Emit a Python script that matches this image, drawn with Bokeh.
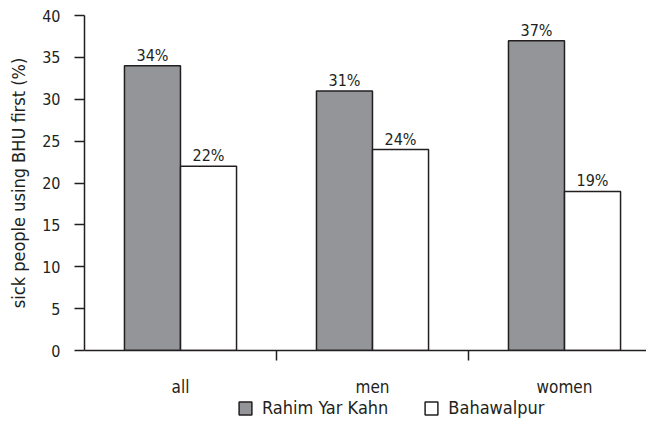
from bokeh.plotting import figure
from bokeh.layouts import column
from bokeh.models import ColumnDataSource, FixedTicker, Legend, LegendItem, Range1d, LabelSet
from bokeh.core.properties import value
from bokeh.embed import file_html
from bokeh.resources import INLINE

categories = ["all", "men", "women"]
rahim = [34, 31, 37]
bahawalpur = [22, 24, 19]
series_names = ["Rahim Yar Kahn", "Bahawalpur"]
y_ticks = [0, 5, 10, 15, 20, 25, 30, 35, 40]

FONT = "DejaVu Sans Condensed"
GRAY = "#939598"
EDGE = "#231f20"

centers = [i + 0.5 for i in range(len(categories))]
off = 0.146
bw = 0.2917

src_r = ColumnDataSource(dict(x=[c - off for c in centers], top=rahim,
                              lab=[f"{v}%" for v in rahim]))
src_b = ColumnDataSource(dict(x=[c + off for c in centers], top=bahawalpur,
                              lab=[f"{v}%" for v in bahawalpur]))

p = figure(width=646, height=399, output_backend="svg", toolbar_location=None,
           x_range=Range1d(0, 2.927), y_range=Range1d(0, 40))
p.min_border_left = 84
p.min_border_top = 15
p.min_border_right = 0
p.min_border_bottom = 48
p.outline_line_color = None
p.xgrid.visible = False
p.ygrid.visible = False

r1 = p.vbar(x="x", top="top", width=bw, source=src_r, fill_color=GRAY,
            line_color=EDGE, line_width=1.5)
r2 = p.vbar(x="x", top="top", width=bw, source=src_b, fill_color="white",
            line_color=EDGE, line_width=1.5)

for src in (src_r, src_b):
    p.add_layout(LabelSet(x="x", y="top", text="lab", source=src,
                          text_align="center", text_baseline="bottom",
                          y_offset=1, text_font=value(FONT),
                          text_font_size="16px", text_color=EDGE))

# y axis
ya = p.yaxis[0]
ya.ticker = FixedTicker(ticks=y_ticks)
ya.axis_line_color = EDGE
ya.axis_line_width = 1.5
ya.major_tick_line_color = EDGE
ya.major_tick_line_width = 1.5
ya.major_tick_out = 10
ya.major_tick_in = 0
ya.minor_tick_line_color = None
ya.major_label_text_font = FONT
ya.major_label_text_font_size = "16px"
ya.major_label_text_color = EDGE
ya.major_label_standoff = 14
ya.axis_label = "sick people using BHU first (%)"
ya.axis_label_text_font = FONT
ya.axis_label_text_font_size = "18px"
ya.axis_label_text_font_style = "normal"
ya.axis_label_text_color = EDGE
ya.axis_label_standoff = 10

# x axis
xa = p.xaxis[0]
xa.ticker = FixedTicker(ticks=centers, minor_ticks=[1, 2])
xa.major_label_overrides = {c: cat for c, cat in zip(centers, categories)}
xa.axis_line_color = EDGE
xa.axis_line_width = 1.5
xa.major_tick_line_color = None
xa.major_tick_out = 0
xa.major_tick_in = 0
xa.minor_tick_line_color = EDGE
xa.minor_tick_line_width = 1.5
xa.minor_tick_out = 10
xa.minor_tick_in = 0
xa.major_label_text_font = FONT
xa.major_label_text_font_size = "17px"
xa.major_label_text_color = EDGE
xa.major_label_standoff = 16

# legend strip below the chart (its renderers are hidden copies of the bars)
lg = figure(width=646, height=24, output_backend="svg", toolbar_location=None,
            x_range=p.x_range, y_range=Range1d(0, 1),
            x_axis_type=None, y_axis_type=None)
lg.min_border_left = 0
lg.min_border_right = 0
lg.min_border_top = 0
lg.min_border_bottom = 0
lg.outline_line_color = None
lg.xgrid.visible = False
lg.ygrid.visible = False
g1 = lg.vbar(x="x", top="top", width=bw, source=src_r, fill_color=GRAY,
             line_color=EDGE, line_width=1.5, visible=False)
g2 = lg.vbar(x="x", top="top", width=bw, source=src_b, fill_color="white",
             line_color=EDGE, line_width=1.5, visible=False)

legend = Legend(items=[LegendItem(label=series_names[0], renderers=[g1]),
                       LegendItem(label=series_names[1], renderers=[g2])],
                orientation="horizontal", location=(153, 5),
                label_text_font=FONT, label_text_font_size="18px",
                label_text_color=EDGE, glyph_width=16, glyph_height=16,
                label_standoff=9, spacing=35, border_line_color=None,
                padding=0, margin=0, background_fill_alpha=0)
lg.add_layout(legend)

layout = column(p, lg, spacing=0)
open("out.html", "w").write(file_html(layout, INLINE))
